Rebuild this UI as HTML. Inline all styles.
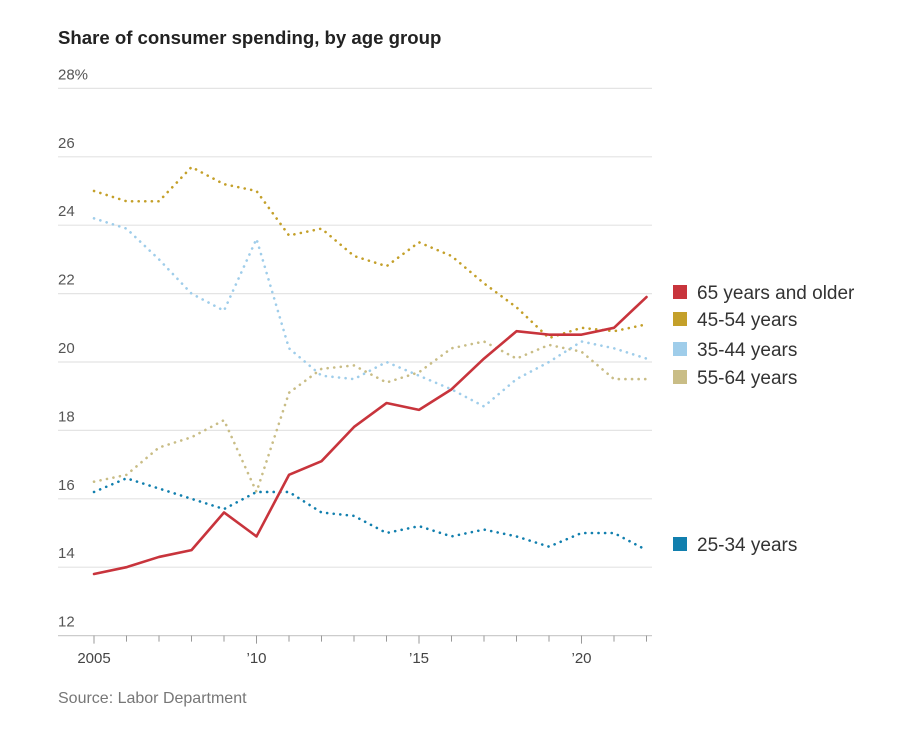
<!DOCTYPE html>
<html><head><meta charset="utf-8"><style>
body{margin:0;background:#fff;font-family:"Liberation Sans",sans-serif;}
svg text{font-family:"Liberation Sans",sans-serif;}
</style></head><body>
<svg width="911" height="724">
<text x="58" y="44" font-size="18.6" font-weight="bold" fill="#222">Share of consumer spending, by age group</text>
<g id="grid"></g><g id="series"></g><g id="legend"></g>
<text x="58" y="703" font-size="16" fill="#777">Source: Labor Department</text>
</svg>
<script>
const years=[2005,2006,2007,2008,2009,2010,2011,2012,2013,2014,2015,2016,2017,2018,2019,2020,2021,2022];
const s65=[13.8,14.0,14.3,14.5,15.6,14.9,16.7,17.1,18.1,18.8,18.6,19.2,20.1,20.9,20.8,20.8,21.0,21.9];
const s4554=[25.0,24.7,24.7,25.7,25.2,25.0,23.7,23.9,23.1,22.8,23.5,23.1,22.3,21.6,20.7,21.0,20.9,21.1];
const s3544=[24.2,23.9,23.0,22.0,21.5,23.6,20.4,19.6,19.5,20.0,19.6,19.2,18.7,19.5,20.0,20.6,20.4,20.1];
const s5564=[16.5,16.7,17.5,17.8,18.3,16.2,19.1,19.8,19.9,19.4,19.7,20.4,20.6,20.1,20.5,20.3,19.5,19.5];
const s2534=[16.2,16.6,16.3,16.0,15.7,16.2,16.2,15.6,15.5,15.0,15.2,14.9,15.1,14.9,14.6,15.0,15.0,14.5];
const yTicks=[12,14,16,18,20,22,24,26,28];
const xTicks=[2005,2010,2015,2020];
const xTickLabels=["2005","\u201910","\u201915","\u201920"];
const NS="http://www.w3.org/2000/svg";
const X=y=>94+(y-2005)*32.5;
const Y=v=>362-(v-20)*34.2;
function mk(t,a,p){const e=document.createElementNS(NS,t);for(const k in a)e.setAttribute(k,a[k]);p.appendChild(e);return e;}
const grid=document.getElementById('grid');
yTicks.forEach(v=>{
 const l=mk('line',{x1:58,x2:652,y1:Y(v),y2:Y(v),stroke:v===12?'#ccc':'#e4e4e4','stroke-width':1.2},grid);
 
 
 const t=mk('text',{x:58,y:Y(v)-9,'font-size':15,fill:'#555'},grid);
 t.textContent=v===28?'28%':String(v);
 
 
});
for(let yr=2005;yr<=2022;yr++){
 const l=mk('line',{x1:X(yr),x2:X(yr),y1:Y(12),y2:Y(12)+(yr%5===0?8:6),stroke:'#999','stroke-width':1},grid);
 
 
}
xTicks.forEach((yr,i)=>{
 const t=mk('text',{x:X(yr),y:663,'font-size':15,fill:'#444','text-anchor':'middle'},grid);
 t.textContent=xTickLabels[i];
 
 
});
const ser=document.getElementById('series');
function line(vals,color,dotted,name){
 const d=vals.map((v,i)=>(i?'L':'M')+X(years[i])+','+Y(v)).join('');
 const a={d:d,fill:'none',stroke:color,'stroke-width':2.6,'stroke-linejoin':'round','stroke-linecap':'round'};
 if(dotted)a['stroke-dasharray']='0.1 6.5';
 const p=mk('path',a,ser);
 
 
}
line(s5564,'#c9bd86',true,'line-55-64');
line(s3544,'#9fcdea',true,'line-35-44');
line(s4554,'#c4a02a',true,'line-45-54');
line(s2534,'#117fae',true,'line-25-34');
line(s65,'#c8343c',false,'line-65-plus');
const leg=document.getElementById('legend');
[[292,'#c8343c','65 years and older'],[319,'#c4a02a','45-54 years'],[349,'#9fcdea','35-44 years'],[377,'#c9bd86','55-64 years'],[544,'#117fae','25-34 years']].forEach(([y,c,l])=>{
 const g=mk('g',{},leg);
 
 
 mk('rect',{x:673,y:y-7,width:14,height:14,fill:c},g);
 const t=mk('text',{x:697,y:y+7,'font-size':19,fill:'#333'},g);
 t.textContent=l;
});
</script>
</body></html>
